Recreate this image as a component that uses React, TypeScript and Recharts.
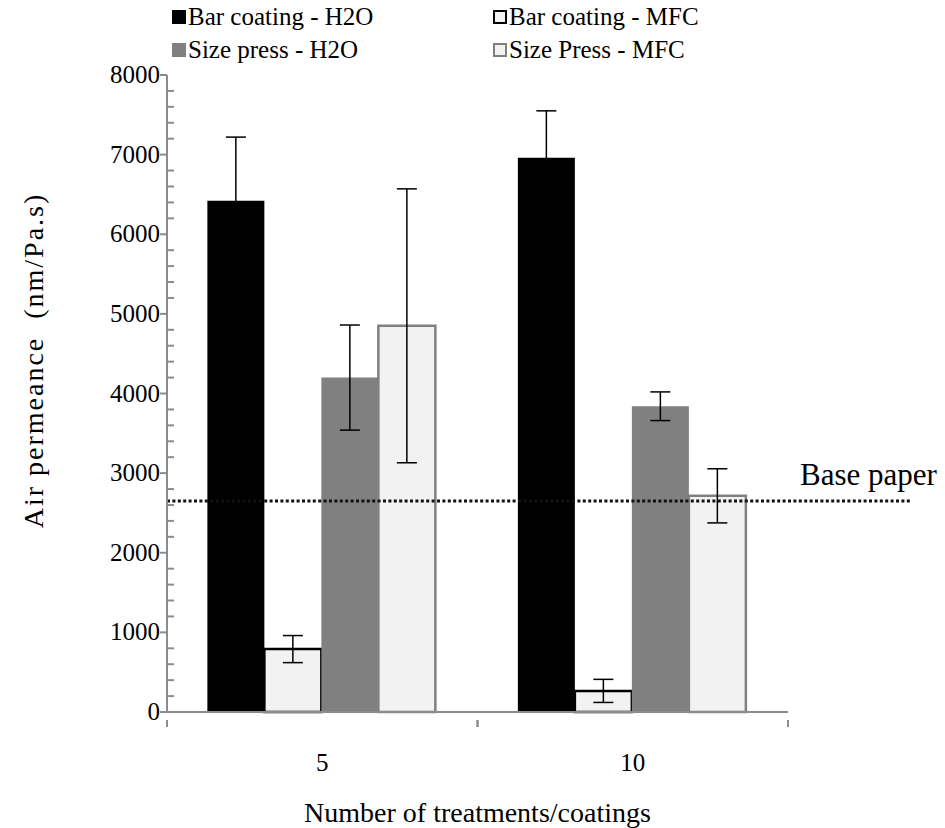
import { Bar, BarChart, ErrorBar, Label, Legend, ReferenceLine, XAxis, YAxis } from 'recharts'

const categories = ['5', '10']
const barH2O = [6420, 6960]
const barH2OErr = [800, 590]
const barMFC = [790, 265]
const barMFCErr = [170, 145]
const sizeH2O = [4200, 3840]
const sizeH2OErr = [660, 180]
const sizeMFC = [4850, 2715]
const sizeMFCErr = [1720, 340]
const basePaper = 2650
const yTicks = Array.from({ length: 41 }, (_, i) => i * 200)

const FONT = '"Liberation Serif", "Times New Roman", serif'
const AXIS = '#8c8c8c'

const data = categories.map((name, i) => ({
  name,
  barH2O: barH2O[i],
  barH2OErr: barH2OErr[i],
  barMFC: barMFC[i],
  barMFCErr: barMFCErr[i],
  sizeH2O: sizeH2O[i],
  sizeH2OErr: sizeH2OErr[i],
  sizeMFC: sizeMFC[i],
  sizeMFCErr: sizeMFCErr[i],
}))

const SERIES = [
  { key: 'barH2O', name: 'Bar coating - H2O', fill: '#000000', stroke: 'none' },
  { key: 'barMFC', name: 'Bar coating - MFC', fill: '#f2f2f2', stroke: '#000000' },
  { key: 'sizeH2O', name: 'Size press - H2O', fill: '#808080', stroke: 'none' },
  { key: 'sizeMFC', name: 'Size Press - MFC', fill: '#f2f2f2', stroke: '#808080' },
]

function YTick({ x, y, payload }: any) {
  const v = payload.value
  if (v % 1000 === 0) {
    return (
      <g>
        <line x1={x - 7} x2={x} y1={y} y2={y} stroke={AXIS} strokeWidth={2} />
        <text x={x - 7} y={y} dy={8} textAnchor="end" fontFamily={FONT} fontSize={25} fill="#000">
          {v}
        </text>
      </g>
    )
  }
  return <line x1={x} x2={x + 7} y1={y} y2={y} stroke={AXIS} strokeWidth={2} />
}

function XTick({ x, y, payload }: any) {
  const half = payload.offset ?? 155
  return (
    <g>
      <line x1={x - half} x2={x - half} y1={y} y2={y + 7} stroke={AXIS} strokeWidth={2} />
      <line x1={x + half} x2={x + half} y1={y} y2={y + 7} stroke={AXIS} strokeWidth={2} />
      <text x={x} y={y + 51} textAnchor="middle" fontFamily={FONT} fontSize={25} fill="#000">
        {payload.value}
      </text>
    </g>
  )
}

function BaseLine({ x1, x2, y1 }: any) {
  return (
    <g>
      <line x1={x1} x2={x2 + 124} y1={y1} y2={y1} stroke="#111" strokeWidth={3} strokeDasharray="3 2.4" />
      <text x={x2 + 12} y={y1 - 16} fontFamily={FONT} fontSize={31} fill="#000">
        Base paper
      </text>
    </g>
  )
}

function LegendBox() {
  return (
    <div
      style={{
        display: 'grid',
        gridTemplateColumns: '321px 300px',
        rowGap: 9,
        fontFamily: FONT,
        fontSize: 25,
        lineHeight: '24px',
        color: '#000',
      }}
    >
      {SERIES.map((s) => (
        <div key={s.key} style={{ display: 'flex', alignItems: 'center', whiteSpace: 'nowrap' }}>
          <span
            style={{
              display: 'inline-block',
              width: s.stroke === 'none' ? 14 : 10,
              height: s.stroke === 'none' ? 14 : 10,
              background: s.fill,
              border: s.stroke === 'none' ? 'none' : `2px solid ${s.stroke}`,
              marginRight: 2,
            }}
          />
          {s.name}
        </div>
      ))}
    </div>
  )
}

export default function App() {
  return (
    <div style={{ position: 'absolute', left: 0, top: 0, width: 945, height: 828, background: '#fff' }}>
      <BarChart
        width={945}
        height={828}
        data={data}
        margin={{ top: 75, right: 157, left: 107, bottom: 56 }}
        barCategoryGap="13%"
        barGap={0}
      >
        <XAxis
          dataKey="name"
          axisLine={{ stroke: AXIS, strokeWidth: 2 }}
          tickLine={false}
          tick={<XTick />}
          height={60}
          interval={0}
        >
          <Label
            content={({ viewBox }: any) => (
              <text
                x={viewBox.x + viewBox.width / 2}
                y={viewBox.y + 110}
                textAnchor="middle"
                fontFamily={FONT}
                fontSize={28}
                fill="#000"
              >
                Number of treatments/coatings
              </text>
            )}
          />
        </XAxis>
        <XAxis xAxisId="top" orientation="top" dataKey="name" height={0} tick={false} tickLine={false} axisLine={{ stroke: AXIS, strokeWidth: 1.5 }} />
        <YAxis
          domain={[0, 8000]}
          ticks={yTicks}
          interval={0}
          width={60}
          tickSize={0}
          tickMargin={0}
          tickLine={false}
          tick={<YTick />}
          axisLine={{ stroke: AXIS, strokeWidth: 2 }}
        >
          <Label
            content={({ viewBox }: any) => {
              const cx = viewBox.x - 74
              const cy = viewBox.y + viewBox.height / 2 - 33
              return (
                <text
                  x={cx}
                  y={cy}
                  transform={`rotate(-90 ${cx} ${cy})`}
                  textAnchor="middle"
                  dominantBaseline="central"
                  fontFamily={FONT}
                  fontSize={28}
                  letterSpacing={2}
                  fill="#000"
                  style={{ whiteSpace: 'pre' }}
                >
                  {'Air permeance  (nm/Pa.s)'}
                </text>
              )
            }}
          />
        </YAxis>
        <YAxis yAxisId="right" orientation="right" domain={[0, 8000]} width={0} tick={false} tickLine={false} axisLine={{ stroke: AXIS, strokeWidth: 1.5 }} />
        <Legend
          layout="horizontal"
          verticalAlign="middle"
          align="center"
          wrapperStyle={{ top: 5, left: 172, width: 640 }}
          content={() => <LegendBox />}
        />
        {SERIES.map((s) => (
          <Bar
            key={s.key}
            dataKey={s.key}
            name={s.name}
            fill={s.fill}
            stroke={s.stroke}
            strokeWidth={s.stroke === 'none' ? 0 : 2.5}
            isAnimationActive={false}
          >
            <ErrorBar dataKey={`${s.key}Err`} width={10} stroke="#000" strokeWidth={1.5} />
          </Bar>
        ))}
        <ReferenceLine y={basePaper} ifOverflow="visible" shape={<BaseLine />} />
      </BarChart>
    </div>
  )
}
